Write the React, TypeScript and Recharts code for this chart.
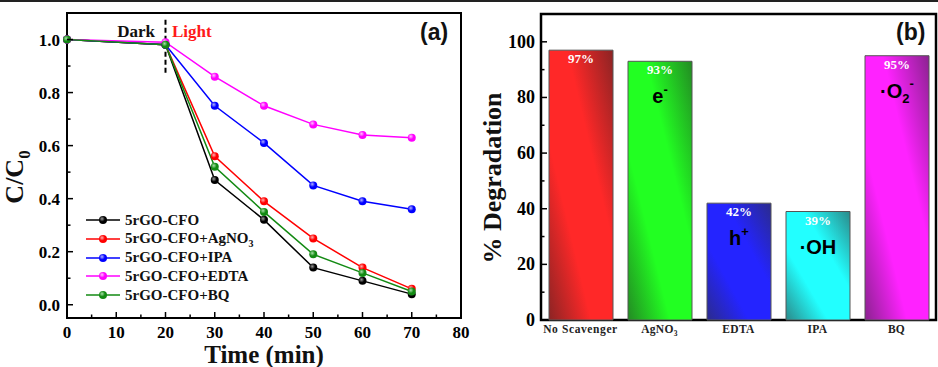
import React from 'react';
import {
  LineChart, Line, XAxis, YAxis, ReferenceLine, ReferenceArea, Legend,
  BarChart, Bar, LabelList, Cell,
} from 'recharts';

// ---- panel (a): C/C0 vs time ----
const times = [0, 20, 30, 40, 50, 60, 70];
const cfo = [1.0, 0.98, 0.47, 0.32, 0.14, 0.09, 0.04];
const cfoAgNO3 = [1.0, 0.98, 0.56, 0.39, 0.25, 0.14, 0.06];
const cfoIPA = [1.0, 0.98, 0.75, 0.61, 0.45, 0.39, 0.36];
const cfoEDTA = [1.0, 0.99, 0.86, 0.75, 0.68, 0.64, 0.63];
const cfoBQ = [1.0, 0.98, 0.52, 0.35, 0.19, 0.12, 0.05];
const timeTicks = [0, 5, 10, 15, 20, 25, 30, 35, 40, 45, 50, 55, 60, 65, 70, 75, 80];
const ratioTicks = [0, 0.1, 0.2, 0.3, 0.4, 0.5, 0.6, 0.7, 0.8, 0.9, 1.0];

// ---- panel (b): % degradation per scavenger ----
const scavengers = ['No Scavenger', 'AgNO3', 'EDTA', 'IPA', 'BQ'];
const degradation = [97, 93, 42, 39, 95];
const species = ['', 'e', 'h', '·OH', '·O'];
const speciesSub = ['', '', '', '', '2'];
const speciesSup = ['', '-', '+', '', '-'];
const degTicks = [0, 10, 20, 30, 40, 50, 60, 70, 80, 90, 100];

const SERIF = '"Times New Roman", "Liberation Serif", serif';
const SANS = 'Arial, "Liberation Sans", sans-serif';

const series = [
  { key: 'cfo', name: '5rGO-CFO', color: '#000000', light: '#9a9a9a', values: cfo },
  { key: 'agno3', name: '5rGO-CFO+AgNO3', color: '#ff0000', light: '#ffb0b0', values: cfoAgNO3 },
  { key: 'ipa', name: '5rGO-CFO+IPA', color: '#0000ff', light: '#b0b0ff', values: cfoIPA },
  { key: 'edta', name: '5rGO-CFO+EDTA', color: '#ff00ff', light: '#ffc0ff', values: cfoEDTA },
  { key: 'bq', name: '5rGO-CFO+BQ', color: '#138a13', light: '#a8e0a8', values: cfoBQ },
];

const barColors = [
  { dark: '#8b2424', bright: '#ff2828' },
  { dark: '#238b23', bright: '#22ff22' },
  { dark: '#2b2b8c', bright: '#2424ff' },
  { dark: '#2a8a8a', bright: '#22ffff' },
  { dark: '#8b2290', bright: '#ff22ff' },
];

const lineData = times.map((t, i) => {
  const row: Record<string, number> = { time: t };
  series.forEach((s) => { row[s.key] = s.values[i]; });
  return row;
});

const barData = scavengers.map((name, i) => ({ name, value: degradation[i] }));

// AgNO3 -> AgNO + subscript 3
function withSub(label: string, fontSize: number) {
  const m = label.match(/^(.*NO)(\d)$/);
  if (!m) return label;
  return (
    <>
      {m[1]}
      <tspan dy={fontSize * 0.3} fontSize={fontSize * 0.65}>{m[2]}</tspan>
    </>
  );
}

const TimeTick = ({ x, y, payload }: any) => {
  const major = payload.value % 10 === 0;
  return (
    <g>
      <line x1={x} x2={x} y1={y} y2={y - (major ? 6 : 3.5)} stroke="#000" strokeWidth={1.5} />
      {major && (
        <text x={x} y={y + 20} textAnchor="middle" fontFamily={SERIF} fontWeight="bold" fontSize={17} fill="#000">
          {payload.value}
        </text>
      )}
    </g>
  );
};

const RatioTick = ({ x, y, payload }: any) => {
  const v = Math.round(payload.value * 10);
  const major = v % 2 === 0;
  return (
    <g>
      <line x1={x} x2={x + (major ? 6 : 3.5)} y1={y} y2={y} stroke="#000" strokeWidth={1.5} />
      {major && (
        <text x={x - 7} y={y + 6} textAnchor="end" fontFamily={SERIF} fontWeight="bold" fontSize={17} fill="#000">
          {(v / 10).toFixed(1)}
        </text>
      )}
    </g>
  );
};

const DegTick = ({ x, y, payload }: any) => {
  const major = payload.value % 20 === 0;
  return (
    <g>
      <line x1={x} x2={x + (major ? 6 : 3.5)} y1={y} y2={y} stroke="#000" strokeWidth={1.5} />
      {major && (
        <text x={x - 6} y={y + 6} textAnchor="end" fontFamily={SERIF} fontWeight="bold" fontSize={18} fill="#000">
          {payload.value}
        </text>
      )}
    </g>
  );
};

const ScavengerTick = ({ x, y, payload }: any) => (
  <text x={x} y={y + 13} textAnchor="middle" fontFamily={SERIF} fontWeight="bold" fontSize={11.5}
    letterSpacing={payload.value === 'No Scavenger' ? 0.6 : 0.3} fill="#222">
    {withSub(payload.value, 11.5)}
  </text>
);

const LegendBox = ({ payload }: any) => {
  const items = [...(payload || [])].sort(
    (a: any, b: any) =>
      series.findIndex((s) => s.key === a.dataKey) - series.findIndex((s) => s.key === b.dataKey),
  );
  return (
    <div style={{ fontFamily: SERIF, fontWeight: 'bold', fontSize: 15, color: '#111' }}>
      {items.map((p: any) => (
        <div key={p.dataKey} style={{ display: 'flex', alignItems: 'center', height: 18.7 }}>
          <svg width={39} height={12} style={{ display: 'block' }}>
            <line x1={0} x2={34} y1={6} y2={6} stroke={p.color} strokeWidth={1.5} />
            <circle cx={17} cy={6} r={4} fill={`url(#ball-${p.dataKey})`} />
          </svg>
          <span>
            {p.value.endsWith('AgNO3') ? (<>5rGO-CFO+AgNO<sub style={{ fontSize: 10 }}>3</sub></>) : p.value}
          </span>
        </div>
      ))}
    </div>
  );
};

const PercentLabel = ({ x, y, width, value }: any) => (
  <text x={x + width / 2} y={y + 13} textAnchor="middle" fontFamily={SERIF} fontWeight="bold"
    fontSize={13} fill="#fff">
    {value}%
  </text>
);

const SpeciesLabel = ({ x, y, width, index }: any) => {
  if (!species[index]) return null;
  return (
    <text x={x + width / 2} y={y + 42} textAnchor="middle" fontFamily={SANS} fontWeight="bold"
      fontSize={20} fill="#000">
      {species[index]}
      {speciesSub[index] && <tspan dy={5} fontSize={13}>{speciesSub[index]}</tspan>}
      {speciesSup[index] && (
        <tspan dy={speciesSub[index] ? -15 : -9} fontSize={13}>{speciesSup[index]}</tspan>
      )}
    </text>
  );
};

export default function App() {
  return (
    <div style={{ position: 'absolute', left: 0, top: 0, width: 938, height: 367, background: '#fff', overflow: 'hidden' }}>
      <div style={{ position: 'absolute', left: 0, top: 0, width: 938, height: 1.5, background: '#222' }} />

      {/* panel (a) */}
      <div style={{ position: 'absolute', left: 0, top: 0 }}>
        <LineChart width={480} height={367} data={lineData} margin={{ top: 13, right: 19, bottom: 0, left: 0 }}>
          <defs>
            {series.map((s) => (
              <radialGradient key={s.key} id={`ball-${s.key}`} cx="38%" cy="35%" r="65%">
                <stop offset="0%" stopColor={s.light} />
                <stop offset="55%" stopColor={s.color} />
                <stop offset="100%" stopColor={s.color} />
              </radialGradient>
            ))}
          </defs>
          <XAxis dataKey="time" type="number" domain={[0, 80]} ticks={timeTicks} interval={0}
            height={49} tickSize={0} tickMargin={0} tickLine={false} axisLine={false} tick={<TimeTick />} />
          <YAxis type="number" domain={[-0.05, 1.1]} ticks={ratioTicks} interval={0}
            width={67} tickSize={0} tickMargin={0} tickLine={false} axisLine={false} tick={<RatioTick />} />
          <ReferenceArea y1={-0.05} y2={1.1} fill="none" stroke="#000" strokeWidth={2} ifOverflow="visible" />
          <ReferenceLine segment={[{ x: 20, y: 1.075 }, { x: 20, y: 0.875 }]} stroke="#000" strokeWidth={2}
            strokeDasharray="5 3" ifOverflow="visible" />
          {series.map((s) => (
            <Line key={s.key} dataKey={s.key} name={s.name} stroke={s.color} strokeWidth={1.5}
              dot={{ r: 4, fill: `url(#ball-${s.key})`, stroke: 'none' }} activeDot={false}
              isAnimationActive={false} />
          ))}
          <Legend layout="vertical" align="center" verticalAlign="middle" content={<LegendBox />}
            wrapperStyle={{ left: 86, top: 211, width: 'auto', height: 'auto' }} />
        </LineChart>
      </div>

      <div style={{ position: 'absolute', left: 117, top: 20, width: 38, textAlign: 'right', fontFamily: SERIF, fontWeight: 'bold', fontSize: 17, lineHeight: '24px', color: '#111' }}>Dark</div>
      <div style={{ position: 'absolute', left: 172, top: 20, fontFamily: SERIF, fontWeight: 'bold', fontSize: 17, lineHeight: '24px', color: '#ff1a1a' }}>Light</div>
      <div style={{ position: 'absolute', left: 420, top: 18, fontFamily: SANS, fontWeight: 'bold', fontSize: 23, lineHeight: '28px', color: '#111' }}>(a)</div>
      <div style={{ position: 'absolute', left: 194, top: 342, width: 140, textAlign: 'center', fontFamily: SERIF, fontWeight: 'bold', fontSize: 25, lineHeight: '25px', color: '#111' }}>Time (min)</div>
      <div style={{ position: 'absolute', left: 20, top: 177, width: 0, height: 0 }}>
        <div style={{ position: 'absolute', transform: 'translate(-50%, -50%) rotate(-90deg)', whiteSpace: 'nowrap', fontFamily: SERIF, fontWeight: 'bold', fontSize: 26, lineHeight: '30px', color: '#111' }}>
          C/C<sub style={{ fontSize: 17 }}>0</sub>
        </div>
      </div>

      {/* panel (b) */}
      <div style={{ position: 'absolute', left: 480, top: 0 }}>
        <BarChart width={458} height={367} data={barData} margin={{ top: 14, right: 2, bottom: 0, left: 0 }}>
          <defs>
            {barColors.map((c, i) => (
              <linearGradient key={i} id={`bar-${i}`} x1="0" y1="1" x2="1" y2="0">
                <stop offset="0%" stopColor={c.dark} />
                <stop offset="33%" stopColor={c.bright} />
                <stop offset="64%" stopColor={c.bright} />
                <stop offset="100%" stopColor={c.dark} />
              </linearGradient>
            ))}
          </defs>
          <XAxis dataKey="name" height={47} tickSize={0} tickMargin={0} tickLine={false} interval={0}
            axisLine={false} tick={<ScavengerTick />} />
          <YAxis type="number" domain={[0, 110]} ticks={degTicks} interval={0} width={61}
            tickSize={0} tickMargin={0} tickLine={false} axisLine={false} tick={<DegTick />} />
          <Bar dataKey="value" barSize={64} stroke="#555" strokeWidth={1} isAnimationActive={false}>
            {barData.map((d, i) => (
              <Cell key={d.name} fill={`url(#bar-${i})`} />
            ))}
            <LabelList dataKey="value" content={<PercentLabel />} />
            <LabelList dataKey="value" content={<SpeciesLabel />} />
          </Bar>
          <ReferenceArea y1={0} y2={110} fill="none" stroke="#000" strokeWidth={2.5} ifOverflow="visible" />
        </BarChart>
      </div>

      <div style={{ position: 'absolute', left: 896, top: 18, fontFamily: SANS, fontWeight: 'bold', fontSize: 23, lineHeight: '28px', color: '#111' }}>(b)</div>
      <div style={{ position: 'absolute', left: 493, top: 178, width: 0, height: 0 }}>
        <div style={{ position: 'absolute', transform: 'translate(-50%, -50%) rotate(-90deg)', whiteSpace: 'nowrap', fontFamily: SERIF, fontWeight: 'bold', fontSize: 26, lineHeight: '30px', color: '#111' }}>
          % Degradation
        </div>
      </div>
    </div>
  );
}
